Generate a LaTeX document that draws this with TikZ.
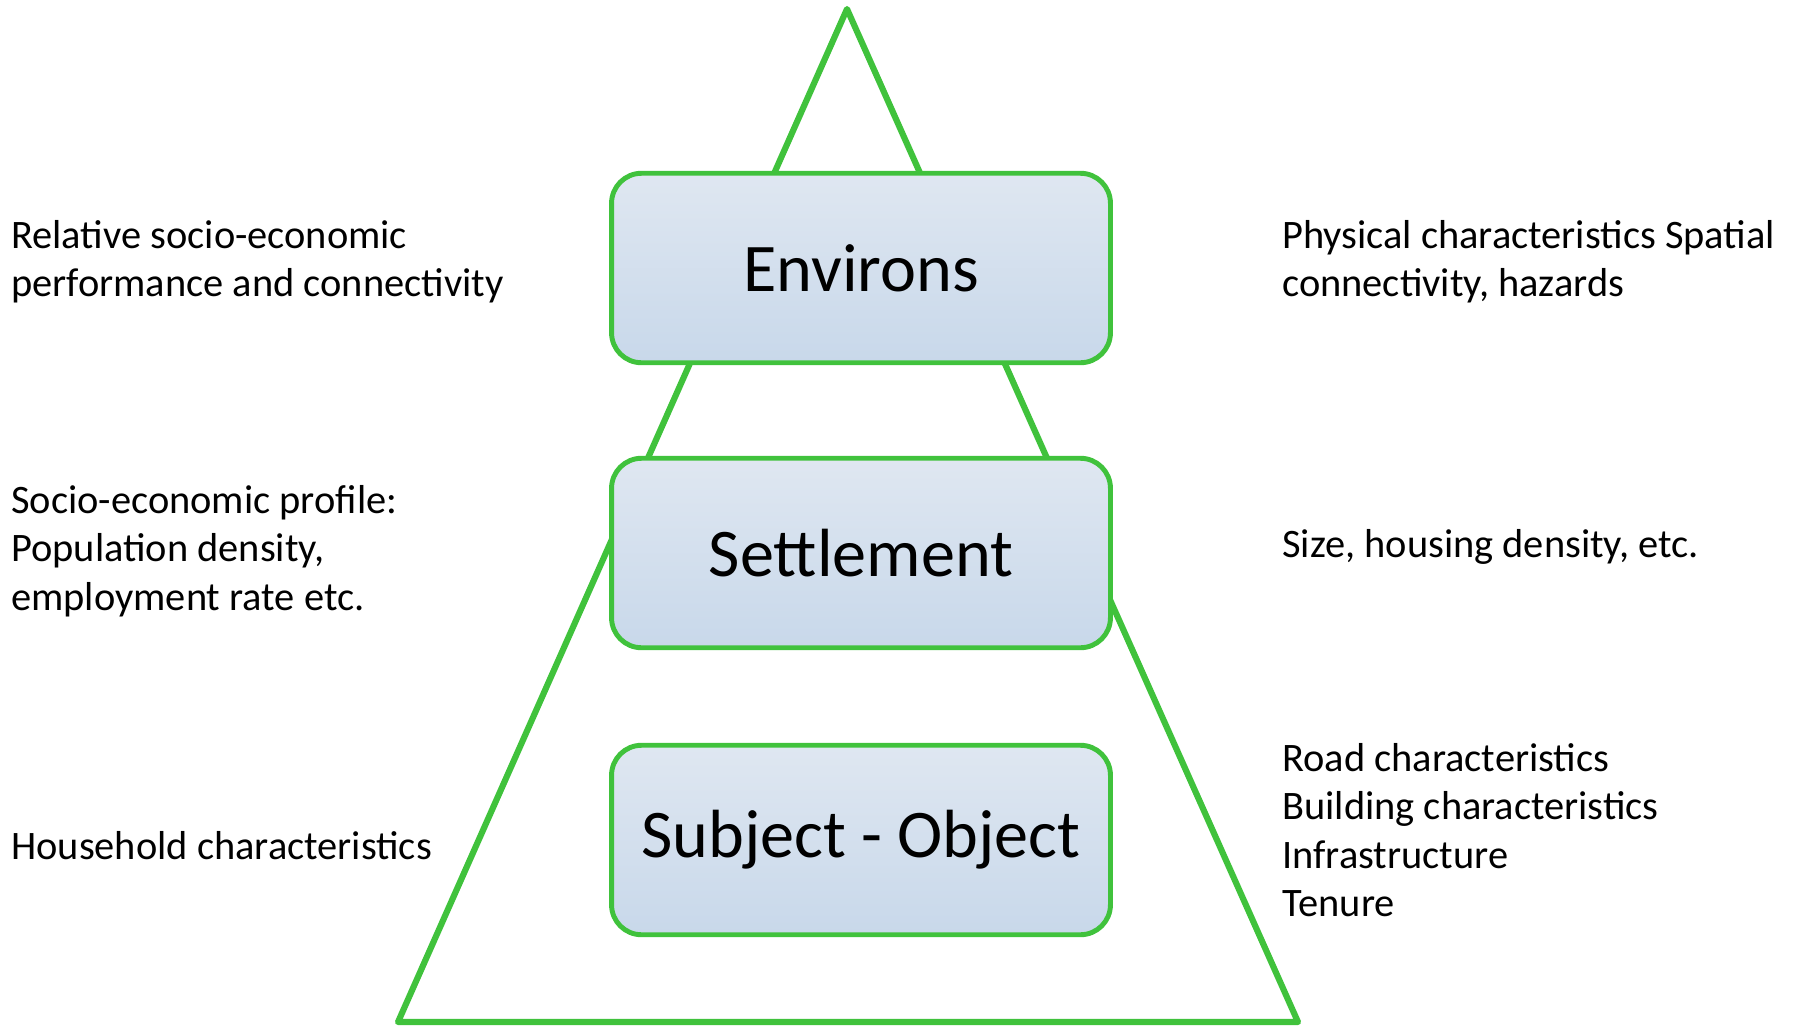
\documentclass[tikz,border=0pt]{standalone}
\usepackage{fontspec}
\setmainfont{Carlito}
\definecolor{levelgreen}{RGB}{64,194,60}
\definecolor{boxtop}{RGB}{223,231,241}
\definecolor{boxbottom}{RGB}{200,216,234}

\begin{document}
\begin{tikzpicture}[x=0.02cm,y=-0.02cm,
    frame/.style={draw=levelgreen,line width=3.5pt,line join=round},
    level/.style={draw=levelgreen,line width=2.8pt,rounded corners=0.6cm,
      top color=boxtop,bottom color=boxbottom,
      minimum width=9.98cm,minimum height=3.79cm,
      font=\fontsize{38.8}{42}\selectfont},
    note/.style={anchor=west,align=left,inner sep=0pt,
      font=\fontsize{23}{27.5}\selectfont}]
  \useasboundingbox (0,0) rectangle (1796,1029);

  % pyramid
  \coordinate (apex) at (847,9);
  \coordinate (baseL) at (398,1022);
  \coordinate (baseR) at (1298,1022);
  \draw[frame] (apex) -- (baseL) -- (baseR) -- cycle;

  % levels
  \node[level] (environs) at (861,268) {Environs};
  \node[level] (settlement) at (861,553) {Settlement};
  \node[level] (subject) at (861,840) {Subject - Object};

  % left notes
  \node[note] (envL) at (11,262) {Relative socio-economic\\performance and connectivity};
  \node[note] (setL) at (11,551) {Socio-economic profile:\\Population density,\\employment rate etc.};
  \node[note] (subL) at (11,846) {Household characteristics};

  % right notes
  \node[note] (envR) at (1282,262) {Physical characteristics Spatial\\connectivity, hazards};
  \node[note] (setR) at (1282,547) {Size, housing density, etc.};
  \node[note] (subR) at (1282,830) {Road characteristics\\Building characteristics\\Infrastructure\\Tenure};
\end{tikzpicture}
\end{document}
